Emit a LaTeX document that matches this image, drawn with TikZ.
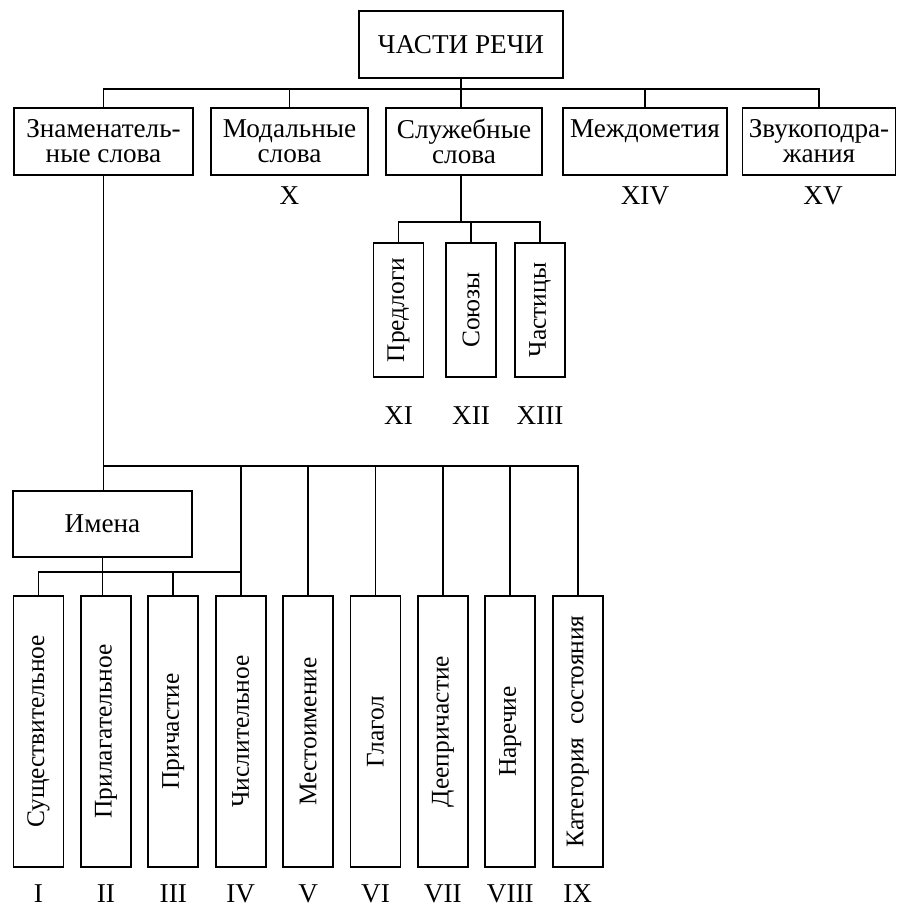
\documentclass[tikz,border=0pt]{standalone}
\usepackage{fontspec}
\setmainfont{Liberation Serif}
\usepackage{graphicx}
\usetikzlibrary{positioning}
\tikzset{
wordbox/.style={
  rectangle,
  line width=0.9pt,
  inner sep=0pt,
  align=center,
  draw=black,
  minimum height=33.5pt,
  font=\fontsize{13.6}{12.5}\selectfont,
  }
}
\tikzset{
vertbox/.style={
  rectangle,
  line width=0.9pt,
  inner sep=0pt,
  draw=black,
  minimum width=25pt,
  minimum height=135.5pt,
  font=\fontsize{12.7}{12.5}\selectfont,
  }
}
\tikzset{
numstyle/.style={
  inner sep=0pt,
  font=\fontsize{13.6}{12.5}\selectfont,
  }
}
\tikzset{
treeline/.style={
  line width=0.9pt,
  }
}

\begin{document}
\begin{tikzpicture}[x=0.5pt,y=-0.5pt]
    \useasboundingbox (0,0) rectangle (896,905);
    % top row
    \node[wordbox, minimum width=102pt] (chasti) at (461,44.5) {ЧАСТИ РЕЧИ};
    \node[wordbox, minimum width=89.5pt] (znam) at (103.5,141.5) {Знаменатель-\\ные слова};
    \node[wordbox, minimum width=78.5pt] (modal) at (289.5,141.5) {Модальные\\слова};
    \node[wordbox, minimum width=78pt] (sluzh) at (464,141.5) {Служебные\\слова};
    \node[wordbox, minimum width=82pt] (mezhd) at (645,141.5) {Междометия\\\phantom{слова}};
    \node[wordbox, minimum width=76.5pt] (zvuk) at (819,141.5) {Звукоподра-\\жания};
    \node[numstyle, below=5pt of modal] (nX) {X};
    \node[numstyle, below=5pt of mezhd] (nXIV) {XIV};
    \node[numstyle, below=5pt of zvuk, xshift=2pt] (nXV) {XV};

    % service words
    \node[vertbox, minimum height=67pt] (predl) at (398.5,310) {\rotatebox{90}{Предлоги}};
    \node[vertbox, minimum height=67pt] (soyuz) at (471,310) {\rotatebox{90}{Союзы}};
    \node[vertbox, minimum height=67pt] (chast) at (540,310) {\rotatebox{90}{Частицы}};
    \node[numstyle, below=14pt of predl] (nXI) {XI};
    \node[numstyle, below=14pt of soyuz] (nXII) {XII};
    \node[numstyle, below=14pt of chast] (nXIII) {XIII};

    % notional words
    \node[wordbox, minimum width=89.5pt, minimum height=33pt] (imena) at (102.5,524) {Имена};
    \foreach \txt/\num [count=\i] in {Существительное/I, Прилагательное/II, Причастие/III,
        Числительное/IV, Местоимение/V, Глагол/VI, Деепричастие/VII, Наречие/VIII,
        Категория~\ состояния/IX} {
      \node[vertbox] (p\i) at ({38.5+67.4*(\i-1)},731.5) {\rotatebox{90}{\txt}};
      \node[numstyle, below=8pt of p\i] (n\i) {\num};
    }

    \coordinate (bus1) at (0,89);
    \coordinate (bus2) at (0,222);
    \coordinate (bus3) at (0,466);
    \coordinate (bus4) at (0,572);

    \draw[treeline] (znam.north) |- (bus1 -| zvuk.north) -- (zvuk.north);
    \draw[treeline] (chasti.south) -- (chasti.south |- sluzh.north);
    \draw[treeline] (modal.north) -- (modal.north |- bus1);
    \draw[treeline] (mezhd.north) -- (mezhd.north |- bus1);

    \draw[treeline] (sluzh.south -| chasti.south) -- (chasti.south |- bus2);
    \draw[treeline] (predl.north) |- (bus2 -| chast.north) -- (chast.north);
    \draw[treeline] (soyuz.north) -- (soyuz.north |- bus2);

    \draw[treeline] (znam.south) -- (znam.south |- imena.north);
    \draw[treeline] (znam.south |- bus3) -- (bus3 -| p9.north) -- (p9.north);
    \foreach \i in {4,...,8}
      \draw[treeline] (p\i.north) -- (p\i.north |- bus3);
    \draw[treeline] (imena.south) -- (imena.south |- p2.north);
    \draw[treeline] (p1.north) |- (bus4 -| p4.north);
    \draw[treeline] (p3.north) -- (p3.north |- bus4);
\end{tikzpicture}
\end{document}
